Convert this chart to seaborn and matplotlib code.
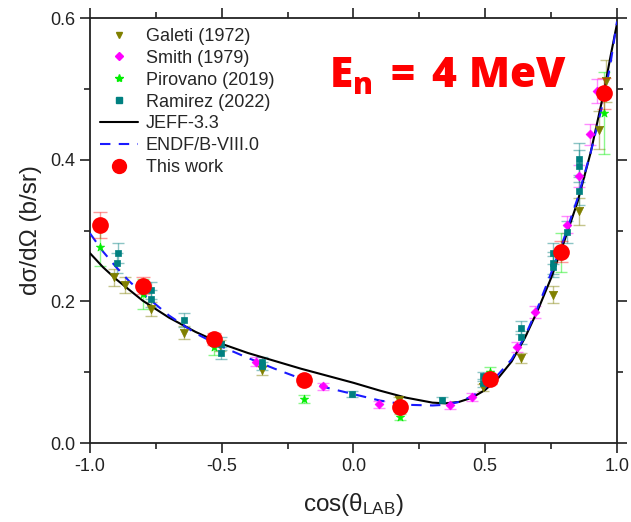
import numpy as np
import pandas as pd
import matplotlib
matplotlib.use("Agg")
import matplotlib.pyplot as plt
from matplotlib.lines import Line2D
from matplotlib.ticker import MultipleLocator, FormatStrFormatter
import seaborn as sns

# ---- evaluated curves -------------------------------------------------
curve_x = [-1.0, -0.95, -0.9, -0.85, -0.8, -0.7, -0.6, -0.5, -0.4, -0.3,
           -0.2, -0.1, 0.0, 0.1, 0.2, 0.3, 0.35, 0.4, 0.45, 0.5, 0.55,
           0.6, 0.65, 0.7, 0.75, 0.8, 0.85, 0.9, 0.95, 0.975, 1.0]
jeff_y = [0.268, 0.248, 0.231, 0.216, 0.201, 0.177, 0.157, 0.140, 0.127, 0.116,
          0.105, 0.095, 0.085, 0.074, 0.064, 0.057, 0.056, 0.058, 0.064, 0.075, 0.092,
          0.115, 0.148, 0.188, 0.233, 0.285, 0.340, 0.410, 0.495, 0.545, 0.592]
endf_y = [0.296, 0.270, 0.248, 0.228, 0.211, 0.180, 0.155, 0.136, 0.120, 0.105,
          0.091, 0.078, 0.069, 0.060, 0.054, 0.053, 0.054, 0.058, 0.066, 0.078, 0.097,
          0.118, 0.150, 0.192, 0.240, 0.290, 0.345, 0.410, 0.485, 0.535, 0.595]

# ---- experimental data ------------------------------------------------
galeti_x = [-0.908, -0.867, -0.769, -0.645, -0.508, -0.347, 0.172, 0.492, 0.635,
            0.759, 0.856, 0.932, 0.958]
galeti_y = [0.234, 0.223, 0.189, 0.156, 0.138, 0.103, 0.061, 0.079, 0.120,
            0.209, 0.327, 0.442, 0.511]
galeti_e = [0.012, 0.011, 0.010, 0.009, 0.008, 0.007, 0.004, 0.005, 0.007,
            0.012, 0.019, 0.027, 0.030]

smith_x = [-0.371, -0.114, 0.098, 0.367, 0.448, 0.622, 0.687, 0.809, 0.856, 0.897, 0.924]
smith_y = [0.115, 0.080, 0.055, 0.053, 0.065, 0.135, 0.185, 0.308, 0.377, 0.436, 0.497]
smith_e = [0.006, 0.005, 0.005, 0.005, 0.005, 0.007, 0.008, 0.012, 0.015, 0.015, 0.017]

pirovano_x = [-0.962, -0.798, -0.530, -0.188, 0.178, 0.519, 0.789, 0.951]
pirovano_y = [0.277, 0.210, 0.136, 0.062, 0.037, 0.100, 0.269, 0.466]
pirovano_e = [0.027, 0.021, 0.012, 0.006, 0.004, 0.008, 0.027, 0.058]

ramirez_x = [-0.899, -0.893, -0.769, -0.769, -0.644, -0.503, -0.503, -0.346, -0.346,
             -0.005, 0.336, 0.492, 0.492, 0.635, 0.635, 0.759, 0.759, 0.759,
             0.809, 0.856, 0.856, 0.856]
ramirez_y = [0.254, 0.268, 0.216, 0.204, 0.174, 0.140, 0.127, 0.115, 0.109,
             0.069, 0.061, 0.094, 0.085, 0.163, 0.149, 0.268, 0.254, 0.249,
             0.298, 0.401, 0.391, 0.356]
ramirez_e = [0.014, 0.014, 0.012, 0.012, 0.010, 0.009, 0.008, 0.006, 0.006,
             0.004, 0.004, 0.006, 0.006, 0.009, 0.009, 0.015, 0.015, 0.015,
             0.016, 0.022, 0.022, 0.020]

work_x = [-0.962, -0.798, -0.530, -0.188, 0.178, 0.519, 0.789, 0.951]
work_y = [0.308, 0.222, 0.147, 0.089, 0.051, 0.091, 0.270, 0.494]
work_e = [0.018, 0.012, 0.009, 0.007, 0.005, 0.007, 0.015, 0.022]

# ---- style ------------------------------------------------------------
sns.set_theme(style="ticks")
plt.rcParams["font.family"] = ["Liberation Sans", "DejaVu Sans"]
plt.rcParams["mathtext.fontset"] = "custom"
plt.rcParams["mathtext.rm"] = "Liberation Sans"
plt.rcParams["mathtext.it"] = "Liberation Sans:italic"
plt.rcParams["mathtext.bf"] = "Open Sans:extrabold"

fig = plt.figure(figsize=(6.31, 5.22), dpi=100)
ax = fig.add_axes([0.1426, 0.1513, 0.8352, 0.8142])

curves = pd.DataFrame({"x": curve_x, "jeff": jeff_y, "endf": endf_y})
sns.lineplot(data=curves, x="x", y="jeff", ax=ax, color="black", lw=1.5,
             sort=False, zorder=3)
sns.lineplot(data=curves, x="x", y="endf", ax=ax, color="#1a1aff", lw=1.5,
             sort=False, zorder=3, dashes=False, linestyle=(0, (5, 4)))

series = [
    ("Galeti (1972)", galeti_x, galeti_y, galeti_e, "#808000", "v", 36),
    ("Smith (1979)", smith_x, smith_y, smith_e, "#ff00ff", "D", 20),
    ("Pirovano (2019)", pirovano_x, pirovano_y, pirovano_e, "#00ee00", "*", 40),
    ("Ramirez (2022)", ramirez_x, ramirez_y, ramirez_e, "#008080", "s", 22),
]
for name, xs, ys, es, col, mk, sz in series:
    ax.errorbar(xs, ys, yerr=es, fmt="none", ecolor=col, alpha=0.45,
                elinewidth=1.0, capsize=4, capthick=1.0, zorder=2)
    sns.scatterplot(x=xs, y=ys, ax=ax, color=col, marker=mk, s=sz,
                    edgecolor=col, linewidth=0.5, zorder=4)

ax.errorbar(work_x, work_y, yerr=work_e, fmt="none", ecolor="#ff0000", alpha=0.4,
            elinewidth=1.0, capsize=5, capthick=1.0, zorder=5)
sns.scatterplot(x=work_x, y=work_y, ax=ax, color="#ff0000", marker="o", s=145,
                edgecolor="#ff0000", linewidth=0, zorder=6)

# ---- axes -------------------------------------------------------------
ax.set_xlim(-1.0, 1.0)
ax.set_ylim(0.0, 0.6)
ax.xaxis.set_major_locator(MultipleLocator(0.5))
ax.xaxis.set_minor_locator(MultipleLocator(0.25))
ax.yaxis.set_major_locator(MultipleLocator(0.2))
ax.yaxis.set_minor_locator(MultipleLocator(0.1))
ax.xaxis.set_major_formatter(FormatStrFormatter("%.1f"))
ax.yaxis.set_major_formatter(FormatStrFormatter("%.1f"))
ax.tick_params(which="both", direction="out", top=True, right=True,
               color="#222222", width=1.2, labelsize=13, labelcolor="#222222")
ax.tick_params(which="major", length=7)
ax.tick_params(which="minor", length=4)
for sp in ax.spines.values():
    sp.set_color("#222222")
    sp.set_linewidth(1.3)

ax.set_xlabel(r"cos(θ$_{\mathrm{LAB}}$)", fontsize=17.5, color="#222222", labelpad=12)
ax.set_ylabel("dσ/dΩ (b/sr)", fontsize=17.5, color="#222222", labelpad=6)

ax.text(0.453, 0.835, r"$\mathbf{E_n\;=\;4\ MeV}$", transform=ax.transAxes,
        fontsize=30.5, color="#ff0000", ha="left", va="baseline")

handles = [
    Line2D([], [], ls="none", marker="v", color="#808000", ms=5),
    Line2D([], [], ls="none", marker="D", color="#ff00ff", ms=4),
    Line2D([], [], ls="none", marker="*", color="#00ee00", ms=6),
    Line2D([], [], ls="none", marker="s", color="#008080", ms=4),
    Line2D([], [], color="black", lw=1.5),
    Line2D([], [], color="#1a1aff", lw=1.5, ls=(0, (5, 4))),
    Line2D([], [], ls="none", marker="o", color="#ff0000", ms=10),
]
labels = ["Galeti (1972)", "Smith (1979)", "Pirovano (2019)", "Ramirez (2022)",
          "JEFF-3.3", "ENDF/B-VIII.0", "This work"]
ax.legend(handles, labels, loc="upper left", frameon=False, fontsize=13,
          handlelength=2.1, handletextpad=0.45, labelspacing=0.27,
          borderaxespad=0.25, borderpad=0.3)

fig.savefig("out.png", dpi=100)
